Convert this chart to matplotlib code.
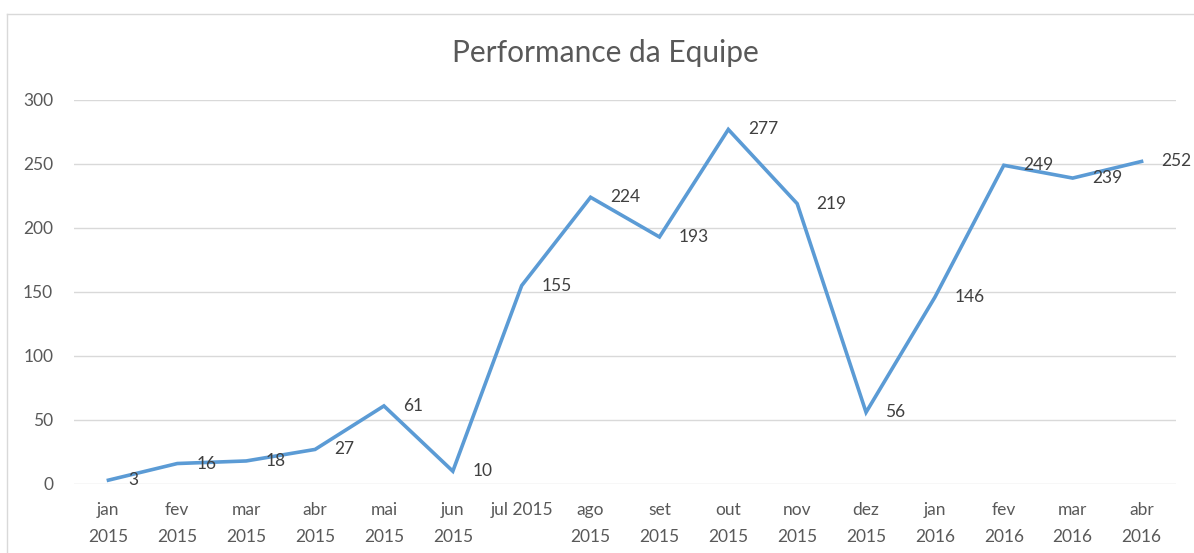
import matplotlib
matplotlib.use('Agg')
import matplotlib.pyplot as plt
from matplotlib.lines import Line2D

months = ['jan\n2015', 'fev\n2015', 'mar\n2015', 'abr\n2015', 'mai\n2015', 'jun\n2015',
          'jul 2015', 'ago\n2015', 'set\n2015', 'out\n2015', 'nov\n2015', 'dez\n2015',
          'jan\n2016', 'fev\n2016', 'mar\n2016', 'abr\n2016']
values = [3, 16, 18, 27, 61, 10, 155, 224, 193, 277, 219, 56, 146, 249, 239, 252]
yticks = [0, 50, 100, 150, 200, 250, 300]

plt.rcParams['font.family'] = ['Lato', 'DejaVu Sans']

fig = plt.figure(figsize=(11.94, 5.53), dpi=100)
ax = fig.add_axes([74/1194, 1 - 484/553, (1176 - 74)/1194, (484 - 100)/553])

x = list(range(len(values)))
ax.plot(x, values, color='#5B9BD5', linewidth=2.6, solid_joinstyle='miter')

for xi, v in zip(x, values):
    ax.annotate(str(v), (xi, v), xytext=(14, 0), textcoords='offset points',
                ha='left', va='center', fontsize=12.5, color='#404040')

ax.set_xlim(-0.5, len(values) - 0.5)
ax.set_ylim(0, 300)
ax.set_yticks(yticks)
ax.set_xticks(x)
ax.set_xticklabels(months, linespacing=1.85)
ax.tick_params(axis='both', length=0, labelsize=12.5, labelcolor='#595959')
ax.tick_params(axis='y', pad=15)
ax.tick_params(axis='x', pad=13)
ax.grid(axis='y', color='#D9D9D9', linewidth=1)
ax.set_axisbelow(True)
for s in ax.spines.values():
    s.set_visible(False)

fig.text(605/1194, 1 - 53/553, 'Performance da Equipe', ha='center', va='center',
         fontsize=21.5, color='#595959')

# chart border (left and top edges visible)
bx = 7/1194
by = 1 - 14/553
fig.add_artist(Line2D([bx, bx], [0, by], transform=fig.transFigure, color='#D9D9D9', linewidth=1))
fig.add_artist(Line2D([bx, 1], [by, by], transform=fig.transFigure, color='#D9D9D9', linewidth=1))

fig.savefig('out.png', dpi=100)
